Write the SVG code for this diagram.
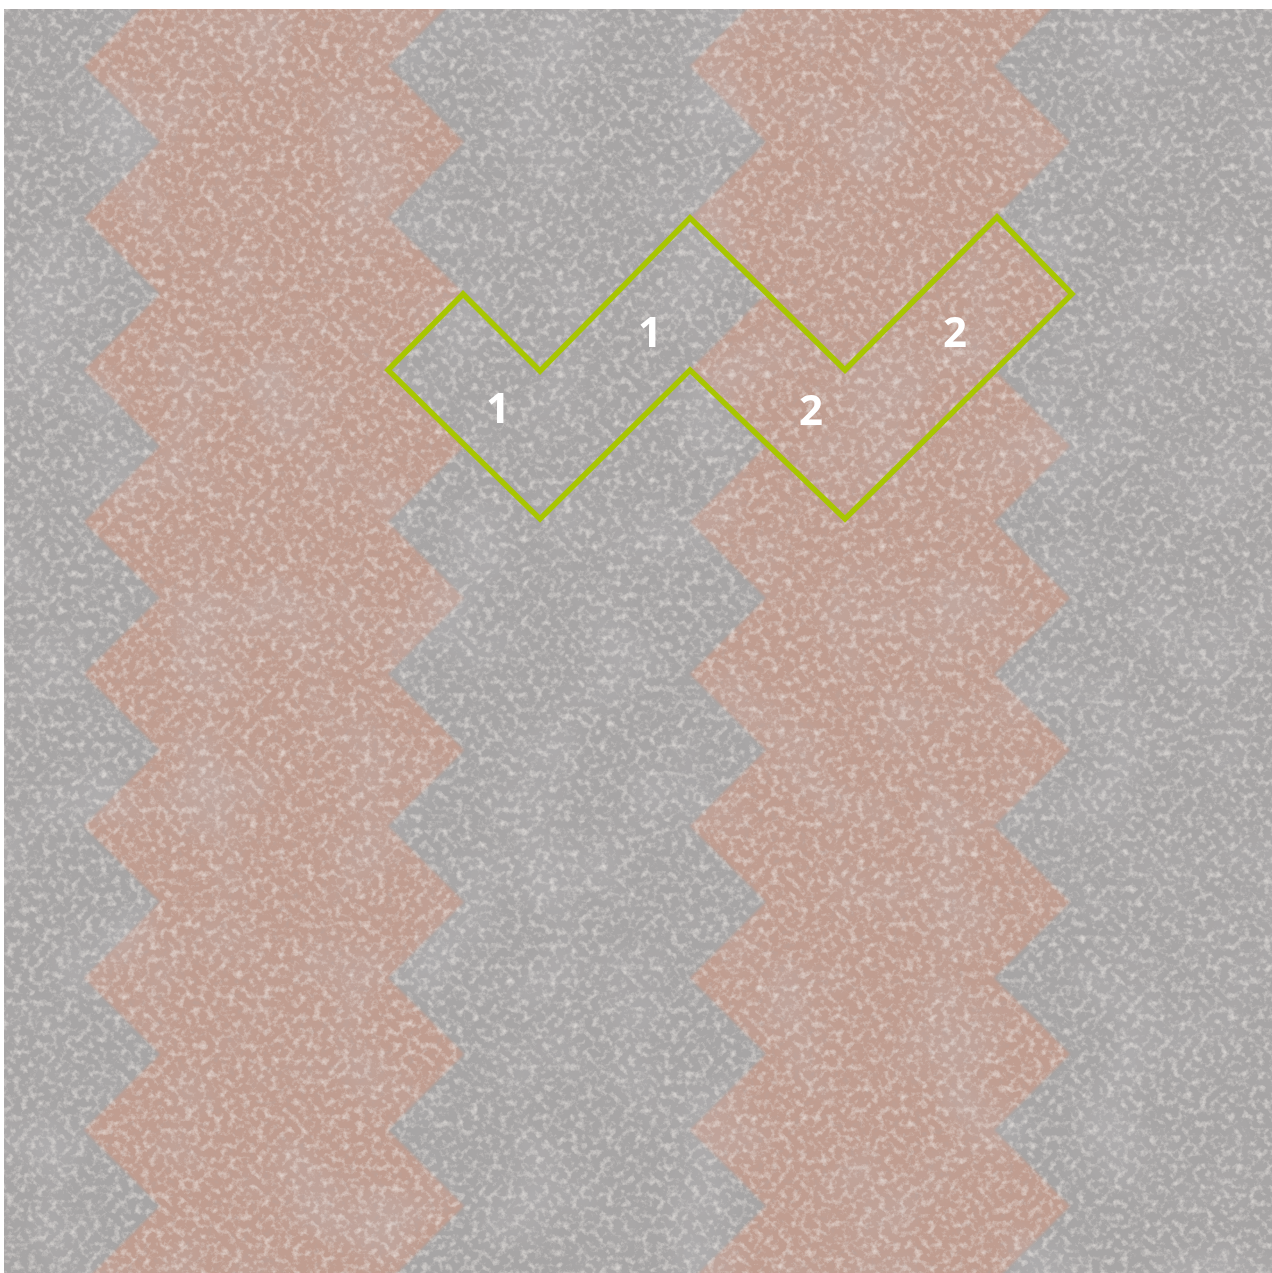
<svg xmlns="http://www.w3.org/2000/svg" xmlns:xlink="http://www.w3.org/1999/xlink" width="1272" height="1273" viewBox="0 0 1272 1273">
  <style>
    .gray { fill: #a7a5a5; }
    .pink { fill: #c09d90; }
    .outline { fill: none; stroke: #a8c600; stroke-width: 5.5; stroke-linejoin: miter; }
    .lbl { fill: #ffffff; font-family: "Open Sans", "Liberation Sans", sans-serif; font-weight: 700; font-size: 42px; text-anchor: middle; }
  </style>
  <defs>
    <clipPath id="area">
      <rect x="4" y="9" width="1268" height="1264"/>
    </clipPath>
    <filter id="stone" x="0" y="0" width="1272" height="1273" filterUnits="userSpaceOnUse">
      <feTurbulence type="fractalNoise" baseFrequency="0.14" numOctaves="4" seed="7" result="t"/>
      <feColorMatrix in="t" type="matrix" values="0 0 0 0 1  0 0 0 0 0.96  0 0 0 0 0.92  1.1 0 0 0 -0.52" result="light"/>
      <feColorMatrix in="t" type="matrix" values="0 0 0 0 0.4  0 0 0 0 0.38  0 0 0 0 0.38  0 -0.9 0 0 0.38" result="dark"/>
      <feTurbulence type="fractalNoise" baseFrequency="0.012" numOctaves="2" seed="3" result="big"/>
      <feColorMatrix in="big" type="matrix" values="0 0 0 0 0.55  0 0 0 0 0.54  0 0 0 0 0.56  0 0 0.7 0 -0.33" result="mottle"/>
      <feMerge result="m">
        <feMergeNode in="SourceGraphic"/>
        <feMergeNode in="mottle"/>
        <feMergeNode in="dark"/>
        <feMergeNode in="light"/>
      </feMerge>
      <feComposite in="m" in2="SourceGraphic" operator="in"/>
    </filter>
    <filter id="soft" x="-5%" y="-5%" width="110%" height="110%">
      <feGaussianBlur stdDeviation="1.5"/>
    </filter>
    <path id="column" d="M84,-86 L160,-10 L84,66 L160,142 L84,218 L160,294 L84,370 L160,446 L84,522 L160,598 L84,674 L160,750 L84,826 L160,902 L84,978 L160,1054 L84,1130 L160,1206 L84,1282 L160,1358 L464,1358 L388,1282 L464,1206 L388,1130 L464,1054 L388,978 L464,902 L388,826 L464,750 L388,674 L464,598 L388,522 L464,446 L388,370 L464,294 L388,218 L464,142 L388,66 L464,-10 L388,-86 Z"/>
  </defs>

  <rect x="0" y="0" width="1272" height="1273" fill="#ffffff"/>

  <g id="paving" clip-path="url(#area)">
    <g filter="url(#stone)">
      <rect id="ground" class="gray" x="0" y="0" width="1272" height="1273"/>
      <g id="stripes" filter="url(#soft)">
        <use id="stripe-left" xlink:href="#column" class="pink"/>
        <use id="stripe-right" xlink:href="#column" class="pink" transform="translate(606,0)"/>
      </g>
    </g>
  </g>

  <g id="connectors"></g>

  <g id="tile-outline">
    <polygon class="outline" points="388,370 463,294 540,371 690,218 845,370 997,217 1072,294 845,519 690,370 540,519"/>
  </g>

  <g id="labels">
    <text id="label-1a" class="lbl" x="498" y="423">1</text>
    <text id="label-1b" class="lbl" x="650" y="347">1</text>
    <text id="label-2a" class="lbl" x="811" y="425">2</text>
    <text id="label-2b" class="lbl" x="955" y="347">2</text>
  </g>
</svg>
